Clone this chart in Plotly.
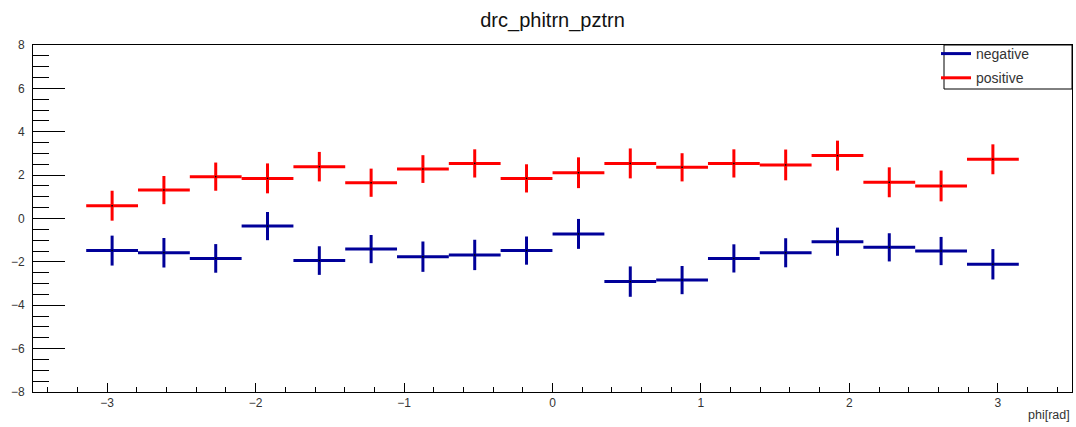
import plotly.graph_objects as go

# bin centers (18 bins over -pi..pi) and half bin width
phi = [-2.967, -2.618, -2.269, -1.920, -1.571, -1.222, -0.873, -0.524, -0.175,
       0.175, 0.524, 0.873, 1.222, 1.571, 1.920, 2.269, 2.618, 2.967]
half_bin = [0.1745] * 18

negative = [-1.48, -1.58, -1.84, -0.35, -1.94, -1.41, -1.76, -1.68, -1.48,
            -0.71, -2.91, -2.84, -1.84, -1.58, -1.07, -1.33, -1.50, -2.11]
negative_err = [0.69, 0.68, 0.66, 0.65, 0.66, 0.65, 0.70, 0.70, 0.65,
                0.69, 0.70, 0.65, 0.65, 0.67, 0.65, 0.65, 0.65, 0.70]

positive = [0.59, 1.31, 1.93, 1.85, 2.39, 1.65, 2.28, 2.54, 1.85,
            2.11, 2.54, 2.36, 2.54, 2.47, 2.90, 1.67, 1.50, 2.73]
positive_err = [0.69, 0.65, 0.65, 0.69, 0.68, 0.65, 0.64, 0.65, 0.65,
                0.71, 0.69, 0.65, 0.65, 0.71, 0.69, 0.69, 0.71, 0.69]

series = [("negative", negative, negative_err, "#000099"),
          ("positive", positive, positive_err, "#ff0000")]

FONT = "Liberation Sans, Arial, Helvetica, sans-serif"

fig = go.Figure()
for name, vals, errs, col in series:
    fig.add_trace(go.Scatter(
        x=phi, y=vals, mode="markers", showlegend=False,
        marker=dict(color="black", size=1.5, symbol="square"),
        error_x=dict(type="data", array=half_bin, width=0, thickness=3, color=col),
        error_y=dict(type="data", array=errs, width=0, thickness=3, color=col),
        hoverinfo="x+y", name=name,
    ))
    fig.add_trace(go.Scatter(
        x=[None], y=[None], mode="lines", name=name,
        line=dict(color=col, width=3), legendgroup=name,
    ))

fig.update_layout(
    width=1076, height=427,
    margin=dict(l=33, r=4, t=45, b=35),
    paper_bgcolor="white", plot_bgcolor="white",
    font=dict(family=FONT, color="black"),
    title=dict(text="drc_phitrn_pztrn", x=0.5, xref="paper",
               y=1 - 20 / 427, yanchor="middle",
               font=dict(size=20, family=FONT, color="#111")),
    showlegend=True,
    legend=dict(x=(936 - 33) / 1039, xanchor="left", y=1 + 7 / 347, yanchor="top",
                bgcolor="rgba(0,0,0,0)", borderwidth=0,
                font=dict(size=14, family=FONT, color="#333"),
                traceorder="grouped", tracegroupgap=3),
    shapes=[dict(type="rect", xref="paper", yref="paper",
                 x0=(944 - 33) / 1039, x1=1, y0=(392 - 89) / 347, y1=1,
                 line=dict(color="black", width=1), fillcolor="white",
                 layer="below")],
    annotations=[dict(text="phi[rad]", xref="paper", yref="paper",
                      x=1, xanchor="right", y=(392 - 415) / 347, yanchor="middle",
                      showarrow=False, font=dict(size=12.5, family=FONT, color="#333"))],
)

fig.update_xaxes(
    range=[-3.5, 3.5], showgrid=False, zeroline=False,
    showline=True, linecolor="black", linewidth=1, mirror=True,
    ticks="inside", ticklen=9, tickwidth=1, tickcolor="black",
    tick0=0, dtick=1,
    tickfont=dict(size=12, family=FONT, color="#333"),
    minor=dict(ticks="inside", ticklen=5, tickwidth=1, tickcolor="black",
               dtick=0.2, tick0=0, showgrid=False),
)
fig.update_yaxes(
    range=[-8, 8], showgrid=False, zeroline=False,
    showline=True, linecolor="black", linewidth=1, mirror=True,
    ticks="inside", ticklen=32, tickwidth=1, tickcolor="black",
    tick0=0, dtick=2, ticklabelstandoff=5,
    tickfont=dict(size=12, family=FONT, color="#333"),
    minor=dict(ticks="inside", ticklen=16, tickwidth=1, tickcolor="black",
               dtick=0.5, tick0=0, showgrid=False),
)

fig.write_html("out.html")
